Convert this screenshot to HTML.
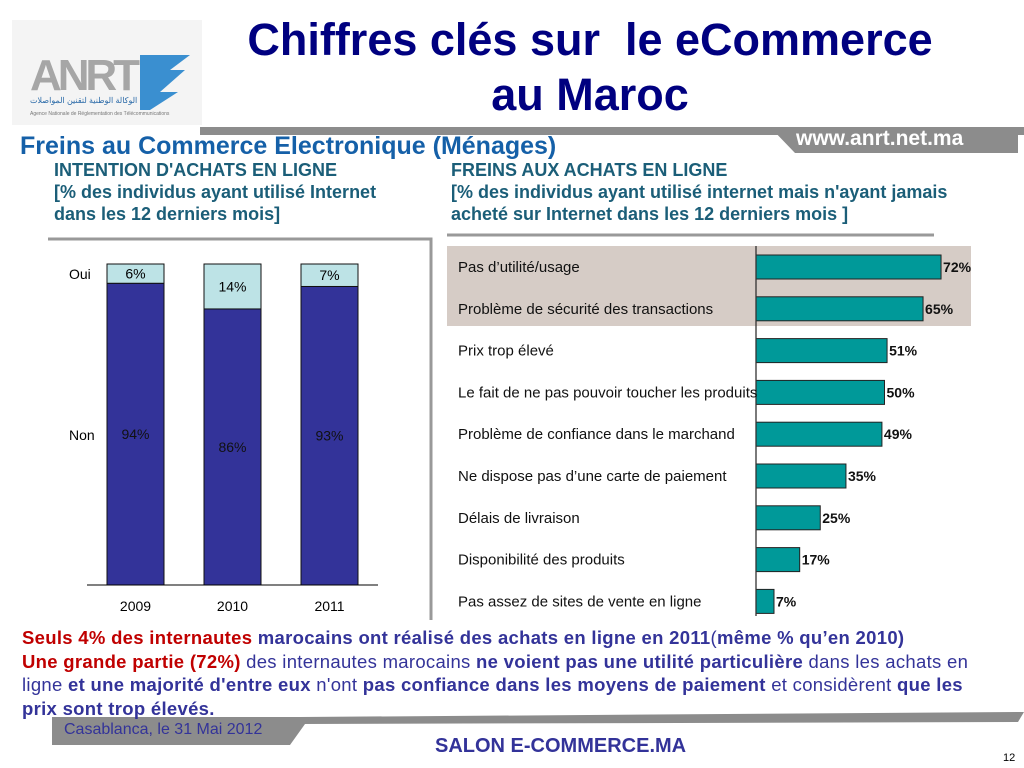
<!DOCTYPE html>
<html><head><meta charset="utf-8">
<style>
body{margin:0;width:1024px;height:768px;background:#fff;position:relative;overflow:hidden;font-family:"Liberation Sans",Arial,sans-serif}
.a{position:absolute;white-space:nowrap}
</style></head><body>
<svg class="a" style="left:0;top:0" width="1024" height="768">
  <polygon points="200,127 1024,127 1024,135 200,135" fill="#8c8c8c"/>
  <polygon points="770,127 1018,127 1018,153 795,153" fill="#8c8c8c"/>
  <polygon points="300,717 1024,712 1018,722 300,724" fill="#8c8c8c"/>
  <polygon points="52,717 310,717 290,745 52,745" fill="#8c8c8c"/>
  <g>
    <rect x="12" y="20" width="190" height="105" fill="#f4f4f4"/>
    <text x="30" y="90" font-size="44" font-weight="bold" fill="#a6a6a6" textLength="110">ANRT</text>
    <polygon points="140,55 190,55 170,70 185,70 160,92 178,92 150,110 140,110" fill="#3a8fd0"/>
    <text x="30" y="103" font-size="8" fill="#2a6aa8">الوكالة الوطنية لتقنين المواصلات</text>
    <text x="30" y="115" font-size="5" fill="#777">Agence Nationale de Réglementation des Télécommunications</text>
  </g>
  <polyline points="48,239 431,239 431,620" fill="none" stroke="#999" stroke-width="3"/>
  <line x1="447" y1="235" x2="934" y2="235" stroke="#999" stroke-width="3"/>
  <g id="left"></g>
  <g id="right"></g>
</svg>

<div class="a" style="left:190px;top:12px;width:800px;text-align:center;font-size:45px;font-weight:bold;color:#000080;line-height:55px">Chiffres clés sur&nbsp; le eCommerce<br>au Maroc</div>
<div class="a" style="left:796px;top:127px;font-size:21px;font-weight:bold;color:#fff">www.anrt.net.ma</div>
<div class="a" style="left:20px;top:132px;font-size:25px;font-weight:bold;color:#1560a8">Freins au Commerce Electronique (Ménages)</div>
<div class="a" style="left:54px;top:159px;font-size:18px;font-weight:bold;color:#1b5e78;line-height:22px">INTENTION D'ACHATS EN LIGNE<br>[% des individus ayant utilisé Internet<br>dans les 12 derniers mois]</div>
<div class="a" style="left:451px;top:159px;font-size:18px;font-weight:bold;color:#1b5e78;line-height:22px">FREINS AUX ACHATS EN LIGNE<br>[% des individus ayant utilisé internet mais n'ayant jamais<br>acheté sur Internet dans les 12 derniers mois ]</div>

<div class="a" style="left:22px;top:626px;width:975px;white-space:normal;font-size:18.5px;letter-spacing:0.3px;line-height:23.5px;color:#333399">
<b style="color:#c00000">Seuls 4% des internautes</b> <b>marocains ont réalisé des achats en ligne en 2011</b>(<b>même % qu’en 2010)</b><br>
<b style="color:#c00000">Une grande partie (72%)</b> des internautes marocains <b>ne voient pas une utilité particulière</b> dans les achats en ligne <b>et une majorité d'entre eux</b> n'ont <b>pas confiance dans les moyens de paiement</b> et considèrent <b>que les prix sont trop élevés.</b></div>
<div class="a" style="left:64px;top:721px;font-size:16px;color:#333399">Casablanca, le 31 Mai 2012</div>
<div class="a" style="left:435px;top:735px;font-size:20px;font-weight:bold;color:#333399">SALON E-COMMERCE.MA</div>
<div class="a" style="left:1003px;top:752px;font-size:11px;color:#000">12</div>

<script>
const years = ['2009','2010','2011'];
const oui = [6,14,7];
const non = [94,86,93];
const freinLabels = ['Pas d’utilité/usage','Problème de sécurité des transactions','Prix trop élevé','Le fait de ne pas pouvoir toucher les produits','Problème de confiance dans le marchand','Ne dispose pas d’une carte de paiement','Délais de livraison','Disponibilité des produits','Pas assez de sites de vente en ligne'];
const freinValues = [72,65,51,50,49,35,25,17,7];

const NS='http://www.w3.org/2000/svg';
function mk(tag, attrs, parent, txt){const e=document.createElementNS(NS,tag);for(const k in attrs)e.setAttribute(k,attrs[k]);if(txt!==undefined)e.textContent=txt;parent.appendChild(e);return e;}

const L=document.getElementById('left');
const base=585, top0=264, H=base-top0;
const yL=v=>base - v/100*H;
const xL=i=>107+i*97;
const bw=57;
years.forEach((y,i)=>{
  const x=xL(i);
  const r1=mk('rect',{x:x,y:yL(non[i]),width:bw,height:base-yL(non[i]),fill:'#333399',stroke:'#111',"stroke-width":1},L);
  
  
  const r2=mk('rect',{x:x,y:yL(non[i]+oui[i]),width:bw,height:yL(non[i])-yL(non[i]+oui[i]),fill:'#bde3e6',stroke:'#111',"stroke-width":1},L);
  
  
  const t1=mk('text',{x:x+bw/2,y:(yL(non[i]+oui[i])+yL(non[i]))/2+5,"font-size":14,"text-anchor":"middle",fill:'#000'},L,oui[i]+'%');
  
  
  const t2=mk('text',{x:x+bw/2,y:yL(non[i]/2)+5,"font-size":14,"text-anchor":"middle",fill:'#111'},L,non[i]+'%');
  
  
  const t3=mk('text',{x:x+bw/2,y:611,"font-size":14,"text-anchor":"middle",fill:'#000'},L,y);
  
  
});
const bl=mk('line',{x1:87,y1:base,x2:378,y2:base,stroke:'#000',"stroke-width":1},L);


const lo=mk('text',{x:69,y:279,"font-size":14,fill:'#000'},L,'Oui');


const ln=mk('text',{x:69,y:440,"font-size":14,fill:'#000'},L,'Non');



const R=document.getElementById('right');
const ax=756, scale=2.57;
const xR=v=>ax+v*scale;
const yR=i=>267+i*41.8;
const band=mk('rect',{x:447,y:246,width:524,height:80,fill:'#d6ccc6'},R);


freinValues.forEach((v,i)=>{
  const cy=yR(i);
  const r=mk('rect',{x:ax,y:cy-12,width:xR(v)-ax,height:24,fill:'#009999',stroke:'#222',"stroke-width":1},R);
  
  
  const vt=mk('text',{x:xR(v)+2,y:cy+5,"font-size":14,"font-weight":"bold",fill:'#111'},R,v+'%');
  
  
});
const axl=mk('line',{x1:ax,y1:246,x2:ax,y2:616,stroke:'#333',"stroke-width":1.3},R);


freinLabels.forEach((lab,i)=>{
  const t=mk('text',{x:458,y:yR(i)+5,"font-size":15,fill:'#111'},R,lab);
  
  
});
</script>
</body></html>
